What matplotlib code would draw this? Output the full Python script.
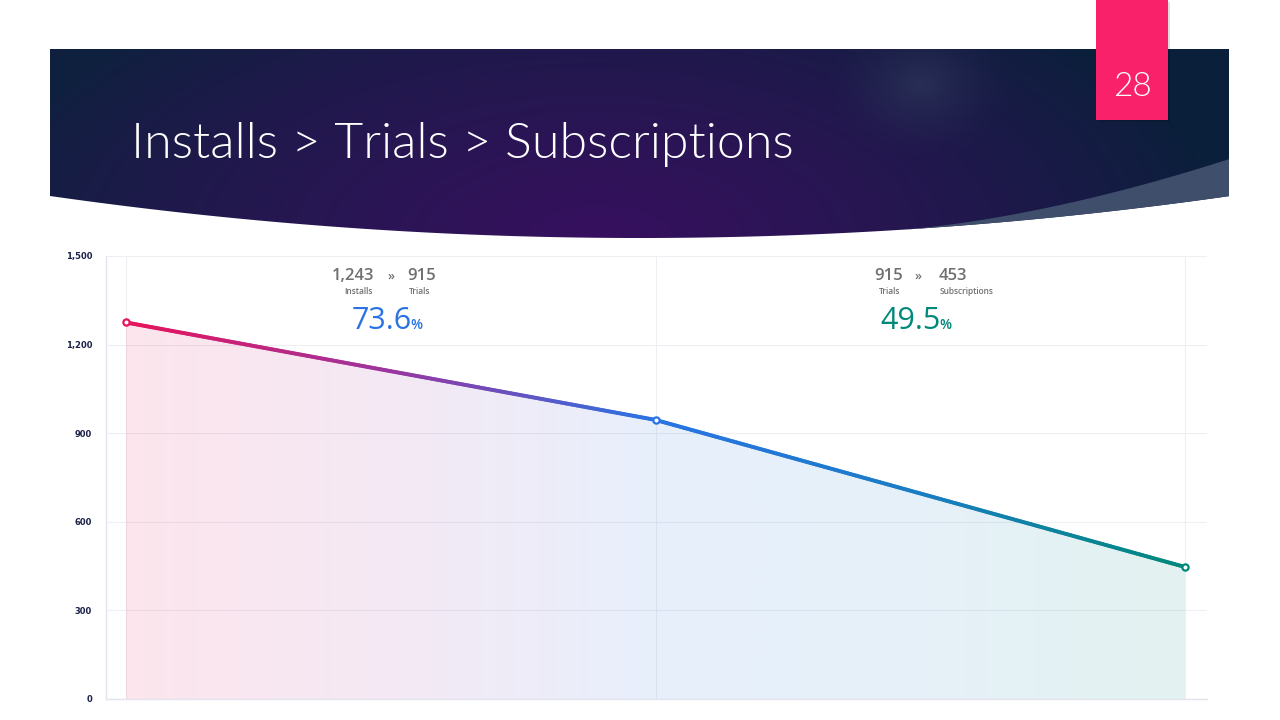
import matplotlib
matplotlib.use("Agg")
import matplotlib.pyplot as plt
import numpy as np
from matplotlib.collections import LineCollection
from matplotlib.colors import LinearSegmentedColormap, to_rgb
from matplotlib.patches import Polygon, Rectangle

# funnel data
stages = ["Installs", "Trials", "Subscriptions"]
plotted = [1275, 945, 447]
counts = [1243, 915, 453]
rates = ["73.6", "49.5"]
rate_colors = ["#2a73e4", "#00897b"]
y_ticks = [0, 300, 600, 900, 1200, 1500]

title = "Installs > Trials > Subscriptions"
page_no = "28"

line_cmap = LinearSegmentedColormap.from_list(
    "funnel",
    [(0.0, "#e8135c"), (0.25, "#9a36a0"), (0.5, "#2a73e4"), (0.75, "#1a7dc4"), (1.0, "#00897b")],
)

fig = plt.figure(figsize=(12.8, 7.2), dpi=100)
fig.patch.set_facecolor("white")

# ---- background / header, in pixel coordinates
bg = fig.add_axes([0, 0, 1, 1], zorder=0)
bg.set_xlim(0, 1280)
bg.set_ylim(720, 0)
bg.axis("off")

X0, X1 = 50, 1229
xs = np.linspace(X0, X1, 300)
bottom = 238 - 42 * ((xs - 640) / 590) ** 2

# header gradient image
W, H = 1280, 250
gx, gy = np.meshgrid(np.arange(W), np.arange(H))
navy_l = np.array(to_rgb("#10203f"))
navy_r = np.array(to_rgb("#0a1f3a"))
purple = np.array(to_rgb("#37105f"))
glow = np.array(to_rgb("#2b3458"))
t = np.clip((gx - X0) / (X1 - X0), 0, 1)[..., None]
img = navy_l * (1 - t) + navy_r * t
d = np.sqrt(((gx - 600) / 620.0) ** 2 + ((gy - 240) / 300.0) ** 2)
wp = np.clip(1 - d, 0, 1)[..., None] ** 0.8
img = img * (1 - wp) + purple * wp
dg = np.sqrt(((gx - 920) / 95.0) ** 2 + ((gy - 85) / 75.0) ** 2)
wg = (np.clip(1 - dg, 0, 1) ** 1.5)[..., None] * 0.8
img = img * (1 - wg) + glow * wg
im = bg.imshow(img, extent=(0, W, H, 0), zorder=1, interpolation="bilinear")
band = np.vstack([[X0, 49], [X1, 49], np.column_stack([xs[::-1], bottom[::-1]])])
clip = Polygon(band, closed=True, transform=bg.transData, facecolor="none", edgecolor="none")
bg.add_patch(clip)
im.set_clip_path(clip)
bg.set_xlim(0, 1280)
bg.set_ylim(720, 0)

# light swoosh on the right
sx = xs[xs >= 900]
sb = 238 - 42 * ((sx - 640) / 590) ** 2
st = sb - 37 * ((sx - 900) / 329) ** 1.6
swoosh = np.vstack([np.column_stack([sx, st]), np.column_stack([sx[::-1], sb[::-1]])])
bg.add_patch(Polygon(swoosh, closed=True, facecolor="#3f4f6b", edgecolor="none", zorder=2))

bg.text(131, 158, title, color="white", fontsize=36, family=["Lato", "DejaVu Sans"],
        fontweight=300, ha="left", va="baseline", zorder=3)

# page number tab
bg.add_patch(Rectangle((1098, 2), 72, 120, facecolor="#00000022", edgecolor="none", zorder=3))
bg.add_patch(Rectangle((1096, 0), 72, 120, facecolor="#f92169", edgecolor="none", zorder=4))
bg.text(1132, 87, page_no, color="white", fontsize=24, family=["Lato", "DejaVu Sans"],
        fontweight=300, ha="center", va="center", zorder=5)

# ---- chart
ax = fig.add_axes([106 / 1280, 21 / 720, 1101 / 1280, 443 / 720], zorder=1)
ax.set_facecolor("none")
xpos = np.arange(len(stages))
ax.set_xlim(-20 / 529.5, 1081 / 529.5)
ax.set_ylim(0, 1500)

# gradient fill under the line
fx = np.linspace(xpos[0], xpos[-1], 400)
fy = np.interp(fx, xpos, plotted)
fill = ax.fill_between(fx, 0, fy, facecolor="none", edgecolor="none")
grad = np.linspace(0, 1, 400)[None, :]
fim = ax.imshow(grad, cmap=line_cmap, aspect="auto", alpha=0.11,
                extent=(xpos[0], xpos[-1], 0, 1500), origin="lower", zorder=1)
fpath = fill.get_paths()[0]
fim.set_clip_path(fpath, transform=ax.transData)

# gradient line
pts = np.column_stack([fx, fy]).reshape(-1, 1, 2)
segs = np.concatenate([pts[:-1], pts[1:]], axis=1)
lc = LineCollection(segs, cmap=line_cmap, linewidth=2.8, capstyle="round", zorder=3)
lc.set_array((fx[:-1] - xpos[0]) / (xpos[-1] - xpos[0]))
ax.add_collection(lc)
for i, (xv, yv) in enumerate(zip(xpos, plotted)):
    ax.plot(xv, yv, "o", markersize=4.5, markerfacecolor="white",
            markeredgecolor=line_cmap(i / (len(xpos) - 1)), markeredgewidth=1.6, zorder=4)

ax.set_xticks(xpos)
ax.set_xticklabels([])
ax.set_yticks(y_ticks)
ax.set_yticklabels([f"{v:,}" for v in y_ticks])
ax.tick_params(length=0, pad=10)
for lab in ax.get_yticklabels():
    lab.set_fontsize(6)
    lab.set_fontweight("bold")
    lab.set_color("#1b2147")
ax.grid(True, color="#eeeef4", linewidth=0.8, zorder=0)
ax.set_axisbelow(True)
for side in ("top", "right"):
    ax.spines[side].set_visible(False)
for side in ("left", "bottom"):
    ax.spines[side].set_color("#e4e4ee")
    ax.spines[side].set_linewidth(1)

# ---- conversion annotations (pixel coordinates)
txt_font = dict(family=["Open Sans", "DejaVu Sans"], color="#6f6f6f", fontweight="semibold")
blocks = [
    (353, 391, 422, 358, 420, 411),
    (889, 918, 953, 890, 966, 940),
]
for k, (xa, xm, xb, la, lb, xr) in enumerate(blocks):
    bg.text(xa, 276, f"{counts[k]:,}", fontsize=12, ha="center", va="center", zorder=6, **txt_font)
    bg.text(xm, 276, "»", fontsize=9, ha="center", va="center", zorder=6, **txt_font)
    bg.text(xb, 276, f"{counts[k + 1]:,}", fontsize=12, ha="center", va="center", zorder=6, **txt_font)
    bg.text(la, 292, stages[k], fontsize=6, ha="center", va="center", zorder=6, **txt_font)
    bg.text(lb, 292, stages[k + 1], fontsize=6, ha="center", va="center", zorder=6, **txt_font)
    bg.text(xr + 1, 329, rates[k], fontsize=22, ha="right", va="baseline", color=rate_colors[k],
            family=["Open Sans", "DejaVu Sans"], zorder=6)
    bg.text(xr - 1, 329, "%", fontsize=10, ha="left", va="baseline", color=rate_colors[k],
            family=["Open Sans", "DejaVu Sans"], fontweight="semibold", zorder=6)

fig.savefig("out.png", dpi=100)
